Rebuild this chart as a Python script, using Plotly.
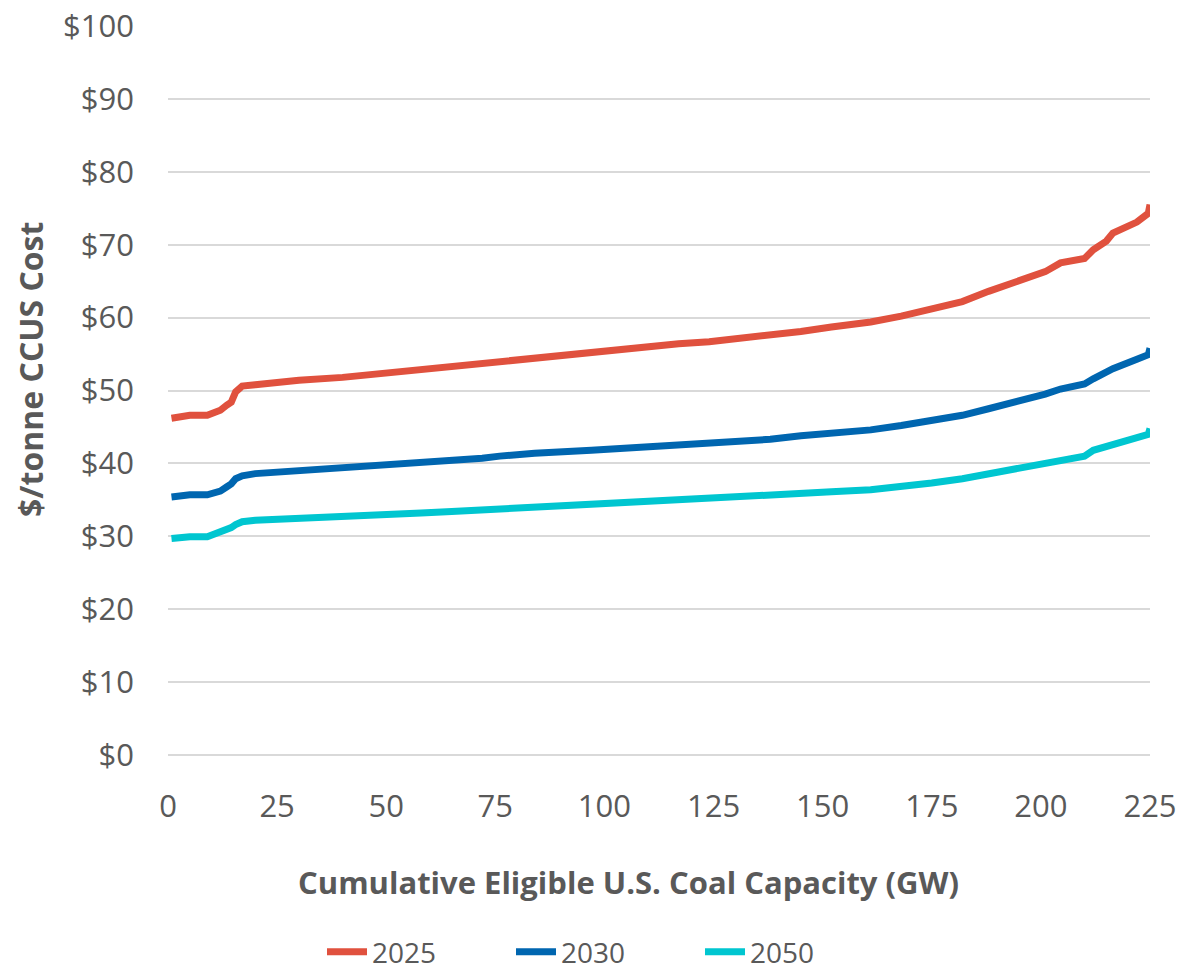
import plotly.graph_objects as go

# Cumulative eligible coal capacity (GW) at which costs are sampled
capacity_gw = [0.8, 3, 5, 9, 10.5, 12, 13.5, 14.5, 15.5, 17, 20, 25, 30, 40, 50, 58, 65, 72,
               76, 84, 97, 106, 117, 124, 138, 145, 152, 161, 168, 175, 182, 188, 195, 201,
               204.5, 210, 212, 215, 216.5, 222, 224.6, 225]

# CCUS cost ($/tonne) by capacity, per year
cost_2025 = [46.2, 46.5, 46.6, 46.6, 47.0, 47.3, 48.0, 48.4, 49.8, 50.6, 50.8, 51.2, 51.4, 51.8,
             52.4, 53.0, 53.4, 53.7, 54.1, 54.6, 55.2, 55.8, 56.4, 56.7, 57.5, 58.1, 58.7, 59.4,
             60.2, 61.2, 62.2, 63.6, 65.0, 66.3, 67.5, 68.1, 69.3, 70.5, 71.6, 73.1, 74.3, 75.5]
cost_2030 = [35.4, 35.6, 35.7, 35.7, 36.0, 36.2, 36.8, 37.2, 37.9, 38.3, 38.6, 38.8, 38.9, 39.4,
             39.8, 40.1, 40.4, 40.7, 41.0, 41.4, 41.8, 42.1, 42.5, 42.7, 43.3, 43.8, 44.1, 44.6,
             45.2, 45.9, 46.6, 47.5, 48.5, 49.5, 50.2, 50.9, 51.6, 52.6, 53.0, 54.3, 54.9, 55.8]
cost_2050 = [29.7, 29.9, 29.95, 29.95, 30.3, 30.5, 30.8, 31.2, 31.6, 32.0, 32.2, 32.3, 32.4, 32.7,
             33.0, 33.2, 33.4, 33.6, 33.8, 34.0, 34.4, 34.6, 35.0, 35.1, 35.5, 35.8, 36.1, 36.4,
             36.8, 37.3, 37.9, 38.6, 39.4, 40.0, 40.6, 41.0, 41.8, 42.3, 42.7, 43.6, 44.0, 44.8]

series = [("2025", cost_2025, "#E0513E"),
          ("2030", cost_2030, "#0066B0"),
          ("2050", cost_2050, "#00C6D0")]

y_ticks = list(range(0, 101, 10))
y_tick_text = [f"${v}" for v in y_ticks]
x_ticks = list(range(0, 226, 25))

TEXT = "#595959"
FONT = "Open Sans"

fig = go.Figure()
for name, vals, color in series:
    fig.add_trace(go.Scatter(
        x=capacity_gw, y=vals, name=name, mode="lines",
        line=dict(color=color, width=7),
    ))

fig.update_layout(
    width=1178, height=978,
    margin=dict(l=168, r=28, t=26, b=223, autoexpand=False),
    paper_bgcolor="white", plot_bgcolor="white",
    font=dict(family=FONT, color=TEXT, size=31),
    showlegend=True,
    legend=dict(orientation="h", x=(322 - 168) / 982, xanchor="left",
                y=(755 - 977) / 729, yanchor="bottom",
                font=dict(size=28, color=TEXT), entrywidth=134, entrywidthmode="pixels",
                itemwidth=40),
    xaxis=dict(range=[0, 225], tickvals=x_ticks, showgrid=False, zeroline=False,
               showline=False, ticks="", ticklabelstandoff=30,
               tickfont=dict(size=31, color=TEXT)),
    yaxis=dict(range=[0, 100], tickvals=y_ticks, ticktext=y_tick_text,
               showgrid=True, gridcolor="#D9D9D9", gridwidth=1.5,
               zeroline=True, zerolinecolor="#D9D9D9", zerolinewidth=1.5,
               showline=False, ticks="", ticklabelstandoff=33,
               tickfont=dict(size=31, color=TEXT)),
    annotations=[
        dict(text="<b>Cumulative Eligible U.S. Coal Capacity (GW)</b>", xref="paper", yref="paper",
             x=(628 - 168) / 982, y=(755 - 882) / 729, xanchor="center", yanchor="middle",
             showarrow=False, font=dict(size=31, color=TEXT, family=FONT)),
        dict(text="<b>$/tonne CCUS Cost</b>", xref="paper", yref="paper",
             x=(30 - 168) / 982, y=(755 - 370) / 729, xanchor="center", yanchor="middle",
             textangle=-90, showarrow=False, font=dict(size=32, color=TEXT, family=FONT)),
    ],
)

fig.write_html("out.html")
